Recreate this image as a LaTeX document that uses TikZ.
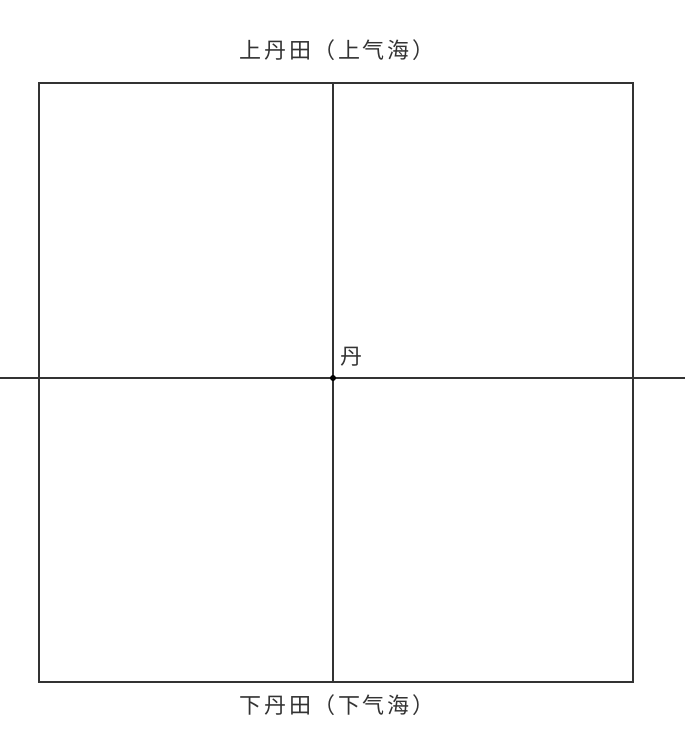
\documentclass[tikz,border=0pt]{standalone}
\usepackage{fontspec}
\newfontfamily\cjk[LetterSpace=12]{Noto Sans CJK SC}
\begin{document}
\begin{tikzpicture}[x=1pt,y=-1pt,
  ln/.style={line width=1.5pt,draw=black!80},
  lbl/.style={font=\cjk\fontsize{22}{22}\selectfont,text=black!80,inner sep=0pt}]
\useasboundingbox (0,0) rectangle (690,742);
\node[ln,draw,minimum width=594pt,minimum height=599pt,inner sep=0pt,anchor=north west] (box) at (38,82) {};
\coordinate (top) at (333,82);
\coordinate (bot) at (333,681);
\coordinate (lft) at (0,378);
\coordinate (rgt) at (685,378);
\draw[ln] (top) -- (bot);
\draw[ln] (lft) -- (rgt);
\fill[black] (333,378) circle (3pt) coordinate (c);
\node[lbl] (d) at (351,357) {丹};
\node[lbl] (up) at (337,50) {上丹田（上气海）};
\node[lbl] (dn) at (337,705) {下丹田（下气海）};
\end{tikzpicture}
\end{document}
